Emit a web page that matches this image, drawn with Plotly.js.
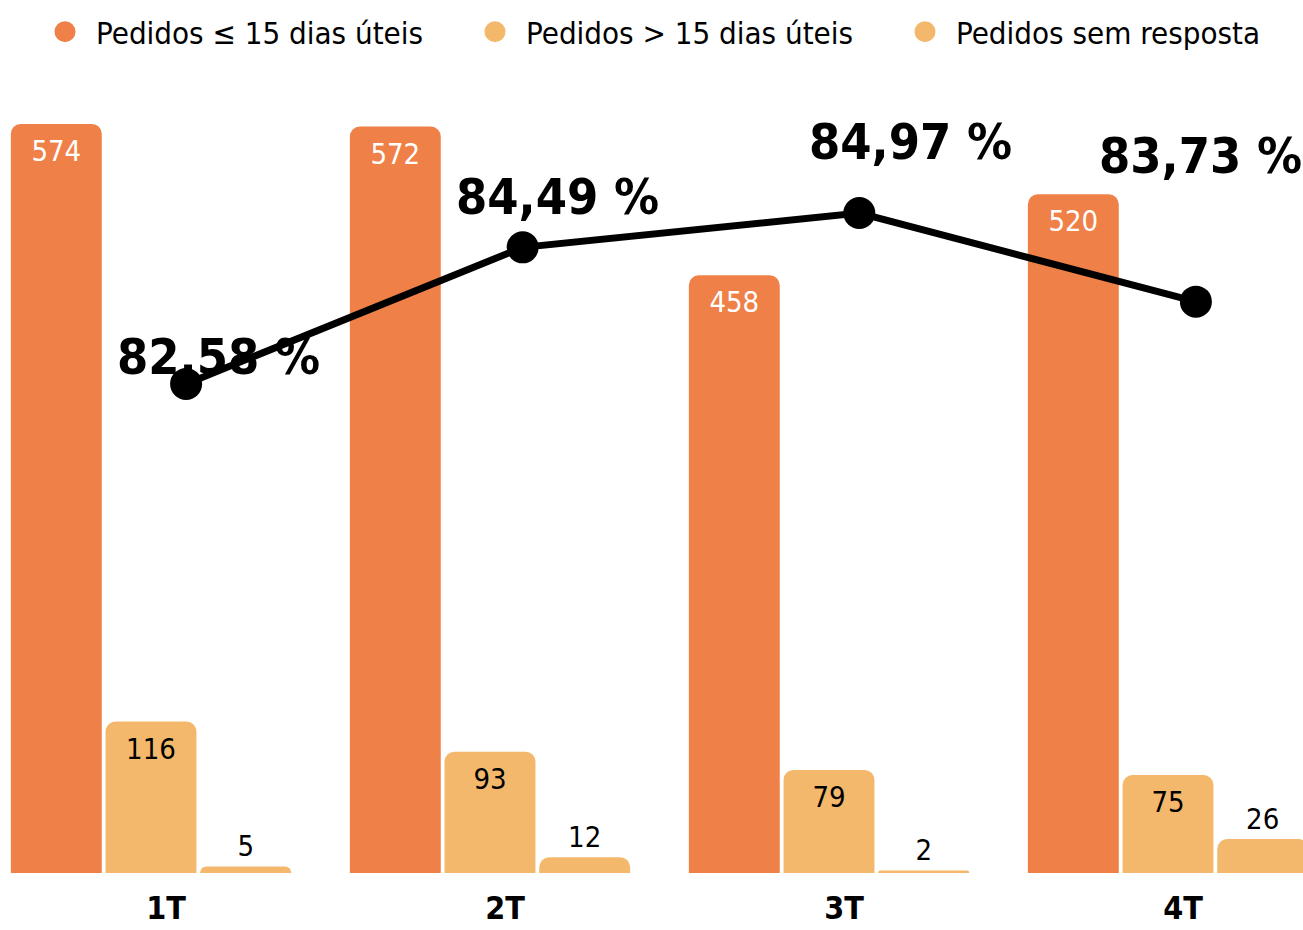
<!DOCTYPE html>
<html><head><meta charset="utf-8">
<script src="https://cdn.plot.ly/plotly-3.0.1.min.js"></script>
<style>html,body{margin:0;padding:0;background:#fff}</style>
</head><body><div id="chart" style="width:1303px;height:930px"></div>
<script>
const categories = ['1T', '2T', '3T', '4T'];
const seriesNames = ['Pedidos ≤ 15 dias úteis', 'Pedidos > 15 dias úteis', 'Pedidos sem resposta'];
const ateQuinzeDias = [574, 572, 458, 520];
const acimaQuinzeDias = [116, 93, 79, 75];
const semResposta = [5, 12, 2, 26];
const percentualNoPrazo = [82.58, 84.49, 84.97, 83.73];

const FONT = 'DejaVu Sans Condensed, DejaVu Sans, sans-serif';
const ORANGE = '#EF8047';
const LIGHT = '#F3B86B';
const seriesColors = [ORANGE, LIGHT, LIGHT];
const seriesValues = [ateQuinzeDias, acimaQuinzeDias, semResposta];
const insideColors = ['#ffffff', '#000000', '#000000'];
const legendIds = ['legend', 'legend2', 'legend3'];
const legendX = [0.0261, 0.3561, 0.6861];

const traces = [];
seriesValues.forEach((vals, k) => {
  traces.push({
    type: 'bar', x: categories, y: vals, name: seriesNames[k],
    text: vals.map(String), textposition: 'auto', insidetextanchor: 'end', textangle: 0,
    insidetextfont: {family: FONT, size: 29, color: insideColors[k]},
    outsidetextfont: {family: FONT, size: 29, color: '#000000'},
    marker: {color: seriesColors[k]},
    showlegend: false, hoverinfo: 'skip', cliponaxis: false
  });
});
seriesNames.forEach((n, k) => {
  traces.push({
    type: 'scatter', mode: 'markers', x: [null], y: [null], name: n, legend: legendIds[k],
    marker: {color: seriesColors[k], size: 16, line: {color: seriesColors[k], width: 5}},
    hoverinfo: 'skip'
  });
});
traces.push({
  type: 'scatter', mode: 'lines+markers', x: categories, y: percentualNoPrazo,
  xaxis: 'x2', yaxis: 'y2', showlegend: false, hoverinfo: 'skip',
  line: {color: '#000000', width: 7}, marker: {color: '#000000', size: 32}, cliponaxis: false
});

const labelShifts = [[32, 27], [35, 50], [51, 71], [5, 146]];
const annotations = percentualNoPrazo.map((v, i) => ({
  xref: 'x2', yref: 'y2', x: categories[i], y: v,
  text: v.toFixed(2).replace('.', ',') + ' %', showarrow: false,
  xanchor: 'center', yanchor: 'middle', xshift: labelShifts[i][0], yshift: labelShifts[i][1],
  font: {family: FONT, size: 50, color: '#000000', weight: 'bold'}
}));

function legendCfg(i) {
  return {orientation: 'h', x: legendX[i], xanchor: 'left', y: 1.0473, yanchor: 'middle',
    font: {family: FONT, size: 31, color: '#000000'}, itemwidth: 52,
    itemclick: false, bgcolor: 'rgba(0,0,0,0)', borderwidth: 0};
}

const layout = {
  width: 1303, height: 930,
  margin: {l: 0, r: 0, t: 70, b: 57, pad: 0},
  paper_bgcolor: '#ffffff', plot_bgcolor: '#ffffff',
  barmode: 'group', bargap: 0.162, bargroupgap: 0.04, barcornerradius: 10,
  showlegend: true,
  legend: legendCfg(0), legend2: legendCfg(1), legend3: legendCfg(2),
  xaxis: {type: 'category', range: [-0.4454, 3.3982], showgrid: false, zeroline: false, showline: false,
    ticks: '', ticklabelstandoff: 13, ticklabelshift: 15,
    tickfont: {family: FONT, size: 32, color: '#000000', weight: 'bold'}, fixedrange: true},
  yaxis: {range: [0, 615.3], visible: false, fixedrange: true},
  xaxis2: {type: 'category', overlaying: 'x', anchor: 'y2', range: [-0.5529, 3.3182], visible: false},
  yaxis2: {overlaying: 'y', anchor: 'x2', range: [75.74, 86.97], visible: false},
  annotations: annotations,
  font: {family: FONT}
};

Plotly.newPlot('chart', traces, layout, {displayModeBar: false, staticPlot: true});
</script></body></html>
